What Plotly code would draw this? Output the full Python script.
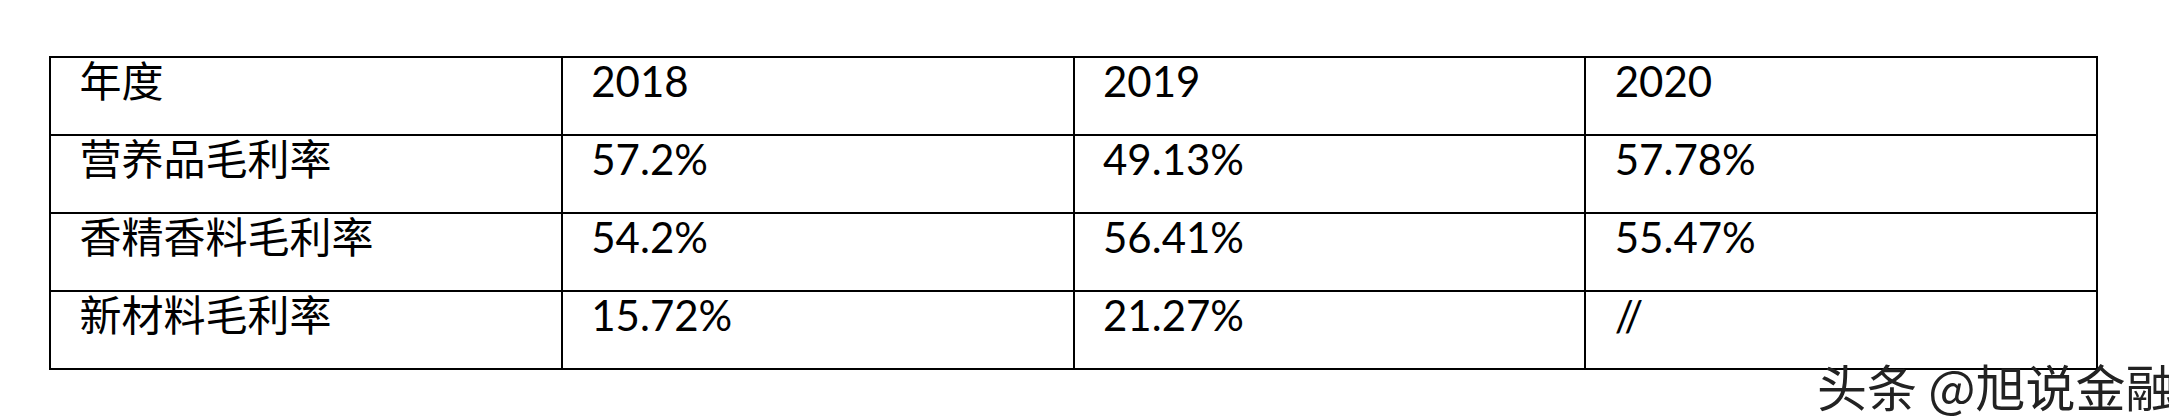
import plotly.graph_objects as go

header = ["年度", "2018", "2019", "2020"]
row_labels = ["营养品毛利率", "香精香料毛利率", "新材料毛利率"]
v2018 = ["57.2%", "54.2%", "15.72%"]
v2019 = ["49.13%", "56.41%", "21.27%"]
v2020 = ["57.78%", "55.47%", "//"]

W, H = 2177, 419
pad = "\u00a0\u00a0"
def p(lst):
    return [pad + s for s in lst]

font = dict(family="Lato, Noto Sans CJK SC", size=42, color="black")
fig = go.Figure(go.Table(
    domain=dict(x=[42 / W, 2089 / W], y=[40 / H, 1 - 49 / H]),
    columnwidth=[1, 1, 1, 1],
    header=dict(values=p(header), align="left", height=78, font=font,
                fill_color="white", line=dict(color="black", width=2)),
    cells=dict(values=[p(row_labels), p(v2018), p(v2019), p(v2020)], align="left", height=78,
               font=font, fill_color="white", line=dict(color="black", width=2)),
))
fig.add_annotation(text="头条 @旭说金融", x=2170 / W, y=1 - 377 / H, xref="paper", yref="paper",
                   xanchor="right", yanchor="middle", showarrow=False,
                   font=dict(family="Noto Sans CJK SC", size=50, color="#222"))
fig.update_layout(width=W, height=H, margin=dict(l=0, r=0, t=0, b=0),
                  paper_bgcolor="white", plot_bgcolor="white")
fig.write_html("out.html")
